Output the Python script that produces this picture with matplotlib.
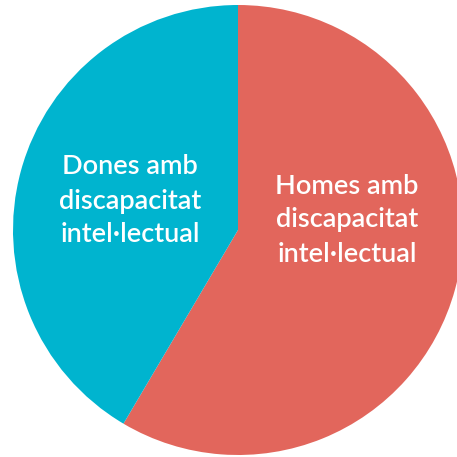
import matplotlib
matplotlib.use("Agg")
import matplotlib.pyplot as plt

categories = ["Homes amb\ndiscapacitat\nintel·lectual", "Dones amb\ndiscapacitat\nintel·lectual"]
values = [58.5, 41.5]
colors = ["#E2665C", "#00B4CF"]

fig = plt.figure(figsize=(4.57, 4.57), dpi=100)
ax = fig.add_axes([0, 0, 1, 1])

wedges, _ = ax.pie(values, colors=colors, startangle=90, counterclock=False,
                   center=(238, 227), radius=225, frame=True)
ax.set_xlim(0, 457)
ax.set_ylim(0, 457)
ax.set_aspect("equal")
ax.axis("off")

label_pos = [(347, 457 - 220), (130, 457 - 201)]
for lab, (x, y) in zip(categories, label_pos):
    ax.text(x, y, lab, ha="center", va="center", color="white",
            fontsize=19.5, family="Lato", fontweight="semibold", linespacing=1.45)

fig.savefig("out.png", dpi=100)
